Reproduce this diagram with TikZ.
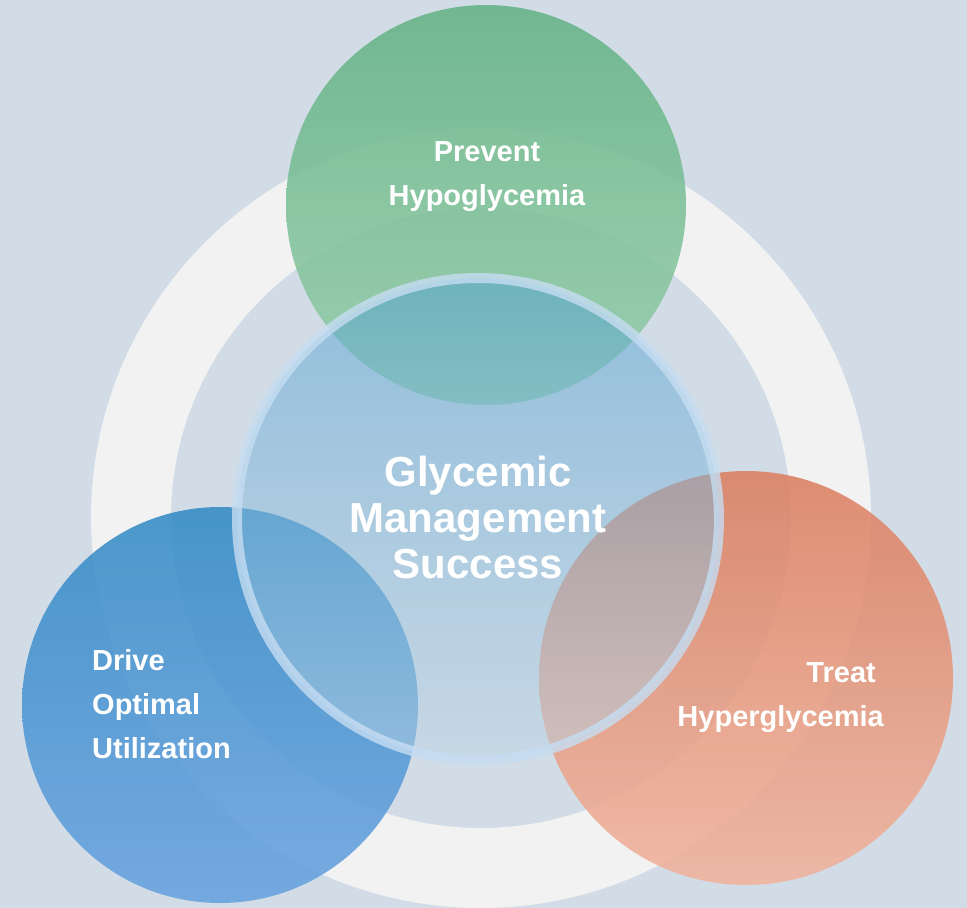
\documentclass[tikz,border=0pt]{standalone}
\usepackage{fontspec}
\setmainfont{Liberation Sans}
\usepackage{tikz}
\usepackage{xcolor}
\definecolor{backblue}{HTML}{D2DCE6}
\definecolor{ringgray}{HTML}{F2F2F2}
\definecolor{greentop}{HTML}{64B286}
\definecolor{greenbot}{HTML}{96CEAA}
\definecolor{bluetop}{HTML}{348BC5}
\definecolor{bluebot}{HTML}{68A2E0}
\definecolor{orangetop}{HTML}{DB7F60}
\definecolor{orangebot}{HTML}{F0B39D}
\definecolor{hubtop}{RGB}{79,160,210}
\definecolor{hubbot}{RGB}{190,212,228}
\definecolor{hubrim}{HTML}{C6DDF2}
\tikzstyle{bubble}=[circle, inner sep=0pt, fill opacity=0.88, draw=none]
\tikzstyle{hub}=[circle, inner sep=0pt, minimum size=482pt, top color=hubtop, bottom color=hubbot, fill opacity=0.5, draw=hubrim, draw opacity=0.8, line width=10pt]
\tikzstyle{bubbletext}=[text=white, inner sep=0pt, font=\bfseries\fontsize{29}{44}\selectfont]

\begin{document}
\begin{tikzpicture}[x=1pt, y=-1pt]%

	\fill [backblue] (0,0) rectangle (967,908);
	\useasboundingbox (0,0) rectangle (967,908);

	% white ring behind everything
	\fill [ringgray, even odd rule] (481,518) circle (390pt) (481,518) circle (310pt);

	\begin{scope}
		\draw  (486,205)  node (Circ_Hypo)  [bubble, top color=greentop,  bottom color=greenbot,  minimum size=400pt]  {};
		\draw  (220,705)  node (Circ_Drive) [bubble, top color=bluetop,   bottom color=bluebot,   minimum size=396pt]  {};
		\draw  (746,678)  node (Circ_Hyper) [bubble, top color=orangetop, bottom color=orangebot, minimum size=414pt]  {};

		\draw  (478,519)  node (Circ_Hub)   [hub]  {};
	\end{scope}

	\draw (487,141) node (Txt_Hypo)  [bubbletext, anchor=north, align=center] {Prevent\\Hypoglycemia};
	\draw (92,649)  node (Txt_Drive) [bubbletext, anchor=north west, align=left] {Drive\\Optimal\\Utilization};
	\draw (884,662) node (Txt_Hyper) [bubbletext, anchor=north east, align=right] {Treat\hspace*{8pt}\\Hyperglycemia};
	\draw (478,456) node (Txt_Hub)   [bubbletext, anchor=north, align=center, font=\bfseries\fontsize{42}{46}\selectfont] {Glycemic\\Management\\Success};

\end{tikzpicture}
\end{document}
